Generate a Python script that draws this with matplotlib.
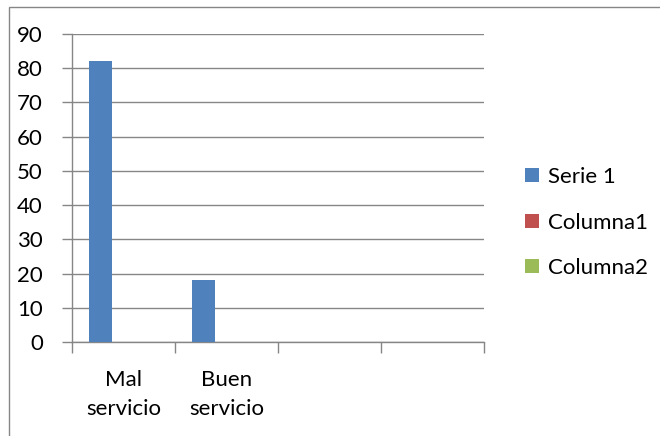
import numpy as np
import matplotlib
matplotlib.use("Agg")
import matplotlib.pyplot as plt
from matplotlib.patches import Rectangle, Patch

plt.rcParams['font.family'] = ['Lato', 'DejaVu Sans']

categories = ["Mal\nservicio", "Buen\nservicio", "", ""]
serie1 = [82, 18, np.nan, np.nan]
columna1 = [np.nan, np.nan, np.nan, np.nan]
columna2 = [np.nan, np.nan, np.nan, np.nan]
series_names = ["Serie 1", "Columna1", "Columna2"]
colors = ["#4F81BD", "#C0504D", "#9BBB59"]
yticks = list(range(0, 100, 10))

grey = "#868686"
fs = 16

fig = plt.figure(figsize=(6.6, 4.36), dpi=100)
ax = fig.add_axes([72 / 660, 94 / 436, 412 / 660, 308 / 436])

x = np.arange(len(categories))
w = 1 / 4.5
for i, (vals, c) in enumerate(zip([serie1, columna1, columna2], colors)):
    ax.bar(x + (i - 1) * w, vals, width=w, color=c, linewidth=0, zorder=3)

ax.set_xlim(-0.5, len(categories) - 0.5)
ax.set_ylim(0, 90)
ax.set_yticks(yticks)
ax.yaxis.grid(True, color=grey, linewidth=1)
ax.set_axisbelow(True)

ax.set_xticks(np.arange(len(categories) + 1) - 0.5)
ax.set_xticklabels([])
ax.set_xticks(x, minor=True)
ax.set_xticklabels(categories, minor=True, linespacing=1.55)
ax.tick_params(axis='x', which='major', length=8, width=1, color=grey)
ax.tick_params(axis='x', which='minor', length=0, pad=20, labelsize=fs)
ax.tick_params(axis='y', length=7, width=1, color=grey, pad=14, labelsize=fs)

for s in ['top', 'right']:
    ax.spines[s].set_visible(False)
for s in ['left', 'bottom']:
    ax.spines[s].set_color(grey)
    ax.spines[s].set_linewidth(1)

handles = [Patch(facecolor=c, edgecolor='none') for c in colors]
fig.legend(handles, series_names, loc='upper left',
           bbox_to_anchor=(505 / 660, 1 - 147 / 436), frameon=False,
           fontsize=fs, handlelength=0.62, handleheight=0.62,
           handletextpad=0.4, labelspacing=1.15)

fig.add_artist(Rectangle((9 / 660, -0.05), 1.2, (436 - 7) / 436 + 0.05,
                         transform=fig.transFigure, fill=False,
                         edgecolor=grey, linewidth=1))

fig.savefig("out.png", dpi=100)
